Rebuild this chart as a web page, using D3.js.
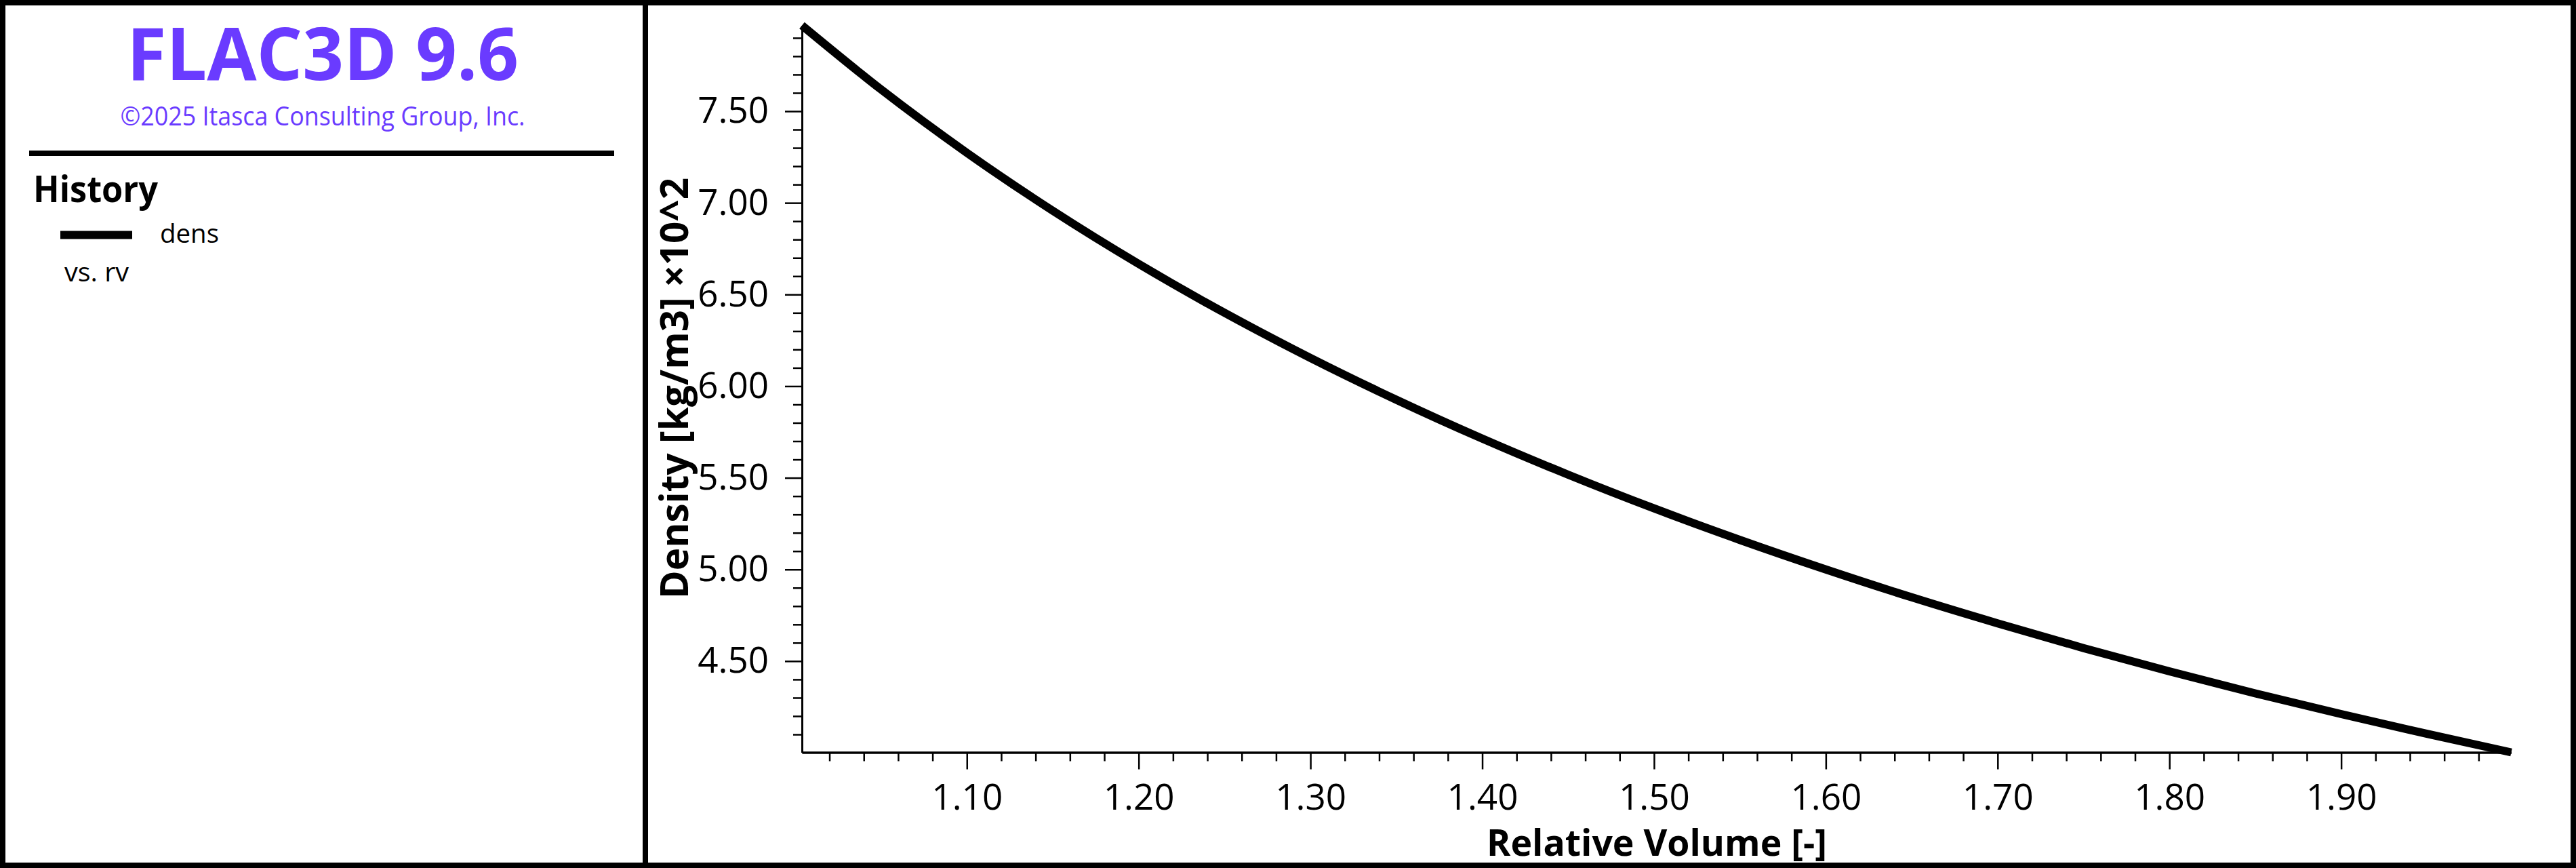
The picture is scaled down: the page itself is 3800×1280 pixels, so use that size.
<!DOCTYPE html>
<html>
<head>
<meta charset="utf-8">
<script src="https://cdn.jsdelivr.net/npm/d3@7"></script>
<style>
  html, body { margin: 0; padding: 0; background: #fff; }
  svg { display: block; }
  text { font-family: "Open Sans", "Noto Sans", sans-serif; }
</style>
</head>
<body>
<svg id="chart" width="3800" height="1280"></svg>
<script>
// ---- data ----
const relVolume = [1.004, 1.05, 1.10, 1.15, 1.20, 1.25, 1.30, 1.35, 1.40, 1.45, 1.50,
                   1.55, 1.60, 1.65, 1.70, 1.75, 1.80, 1.85, 1.90, 1.95, 1.999];
const density   = [7.968, 7.619, 7.273, 6.957, 6.667, 6.400, 6.154, 5.926, 5.714, 5.517, 5.333,
                   5.161, 5.000, 4.848, 4.706, 4.571, 4.444, 4.324, 4.211, 4.103, 4.002];
const xMajorTicks = [1.10, 1.20, 1.30, 1.40, 1.50, 1.60, 1.70, 1.80, 1.90];
const yMajorTicks = [4.50, 5.00, 5.50, 6.00, 6.50, 7.00, 7.50];
const titleText = "FLAC3D 9.6";
const subtitleText = "\u00A92025 Itasca Consulting Group, Inc.";
const legendTitle = "History";
const seriesName = "dens";
const seriesVs = "vs. rv";
const xTitle = "Relative Volume [-]";
const yTitle = "Density [kg/m3] \u00D710^2";

const W = 3800, H = 1280;
const purple = "#6a3bff";
const svg = d3.select("#chart");

// frame
svg.append("rect").attr("x", 0).attr("y", 0).attr("width", W).attr("height", H).attr("fill", "#fff");
svg.append("rect").attr("x", 4).attr("y", 4).attr("width", W - 8).attr("height", H - 8)
  .attr("fill", "none").attr("stroke", "#000").attr("stroke-width", 8);
svg.append("line").attr("x1", 952).attr("x2", 952).attr("y1", 0).attr("y2", H)
  .attr("stroke", "#000").attr("stroke-width", 8);

// left panel
svg.append("text").attr("x", 476).attr("y", 118).attr("text-anchor", "middle")
  .attr("font-size", 108).attr("font-weight", 700).attr("fill", purple)
  .attr("textLength", 578).attr("lengthAdjust", "spacingAndGlyphs").text(titleText);
svg.append("text").attr("x", 476).attr("y", 185).attr("text-anchor", "middle")
  .attr("font-size", 38).attr("fill", purple)
  .attr("textLength", 597).attr("lengthAdjust", "spacingAndGlyphs").text(subtitleText);
svg.append("line").attr("x1", 43).attr("x2", 906).attr("y1", 226).attr("y2", 226)
  .attr("stroke", "#000").attr("stroke-width", 8);
svg.append("text").attr("x", 49).attr("y", 298)
  .attr("font-size", 53).attr("font-weight", 700).attr("fill", "#000")
  .attr("textLength", 184).attr("lengthAdjust", "spacingAndGlyphs").text(legendTitle);
svg.append("line").attr("x1", 89).attr("x2", 195).attr("y1", 346.5).attr("y2", 346.5)
  .attr("stroke", "#000").attr("stroke-width", 12);
svg.append("text").attr("x", 236).attr("y", 358)
  .attr("font-size", 39).attr("fill", "#000")
  .attr("textLength", 87).attr("lengthAdjust", "spacingAndGlyphs").text(seriesName);
svg.append("text").attr("x", 95).attr("y", 415)
  .attr("font-size", 39).attr("fill", "#000")
  .attr("textLength", 95).attr("lengthAdjust", "spacingAndGlyphs").text(seriesVs);

// scales
const x = d3.scaleLinear().domain(d3.extent(relVolume)).range([1183, 3704.5]);
const y = d3.scaleLinear().domain(d3.extent(density)).range([1109.5, 37.5]);

const xMinor = d3.range(51, 100).map(i => i / 50).filter(v => Math.round(v * 50) % 5 !== 0);
const yMinor = d3.range(41, 80).map(i => i / 10).filter(v => Math.round(v * 10) % 5 !== 0);

const xAxisY = 1109.5, yAxisX = 1183;

function styleAxis(g) {
  g.select(".domain").attr("stroke", "#000").attr("stroke-width", 3);
  g.selectAll(".tick line").attr("stroke", "#000").attr("stroke-width", 2.5);
}

// minor ticks
svg.append("g").attr("transform", `translate(0,${xAxisY})`)
  .call(d3.axisBottom(x).tickValues(xMinor).tickSize(13).tickFormat("").tickSizeOuter(0))
  .call(styleAxis);
svg.append("g").attr("transform", `translate(${yAxisX},0)`)
  .call(d3.axisLeft(y).tickValues(yMinor).tickSize(13).tickFormat("").tickSizeOuter(0))
  .call(styleAxis);

// major ticks
const gx = svg.append("g").attr("transform", `translate(0,${xAxisY})`)
  .call(d3.axisBottom(x).tickValues(xMajorTicks).tickSize(25).tickPadding(22)
        .tickFormat(d3.format(".2f")).tickSizeOuter(0))
  .call(styleAxis);
gx.selectAll("text").attr("font-size", 53).attr("font-family", "'Open Sans', 'Noto Sans', sans-serif").attr("fill", "#000");

const gy = svg.append("g").attr("transform", `translate(${yAxisX},0)`)
  .call(d3.axisLeft(y).tickValues(yMajorTicks).tickSize(25).tickPadding(24)
        .tickFormat(d3.format(".2f")).tickSizeOuter(0))
  .call(styleAxis);
gy.selectAll("text").attr("font-size", 53).attr("font-family", "'Open Sans', 'Noto Sans', sans-serif").attr("fill", "#000");

// axis titles
svg.append("text").attr("x", 2444).attr("y", 1262).attr("text-anchor", "middle")
  .attr("font-size", 54).attr("font-weight", 700).attr("fill", "#000")
  .attr("textLength", 502).attr("lengthAdjust", "spacingAndGlyphs").text(xTitle);
svg.append("text").attr("transform", "translate(1015,572.5) rotate(-90)")
  .attr("text-anchor", "middle")
  .attr("font-size", 57).attr("font-weight", 700).attr("fill", "#000")
  .attr("textLength", 621).attr("lengthAdjust", "spacingAndGlyphs").text(yTitle);

// curve
const line = d3.line().x((d, i) => x(relVolume[i])).y(d => y(d)).curve(d3.curveMonotoneX);
svg.append("path").datum(density).attr("d", line)
  .attr("fill", "none").attr("stroke", "#000").attr("stroke-width", 12)
  .attr("stroke-linecap", "butt").attr("stroke-linejoin", "round");
</script>
</body>
</html>
